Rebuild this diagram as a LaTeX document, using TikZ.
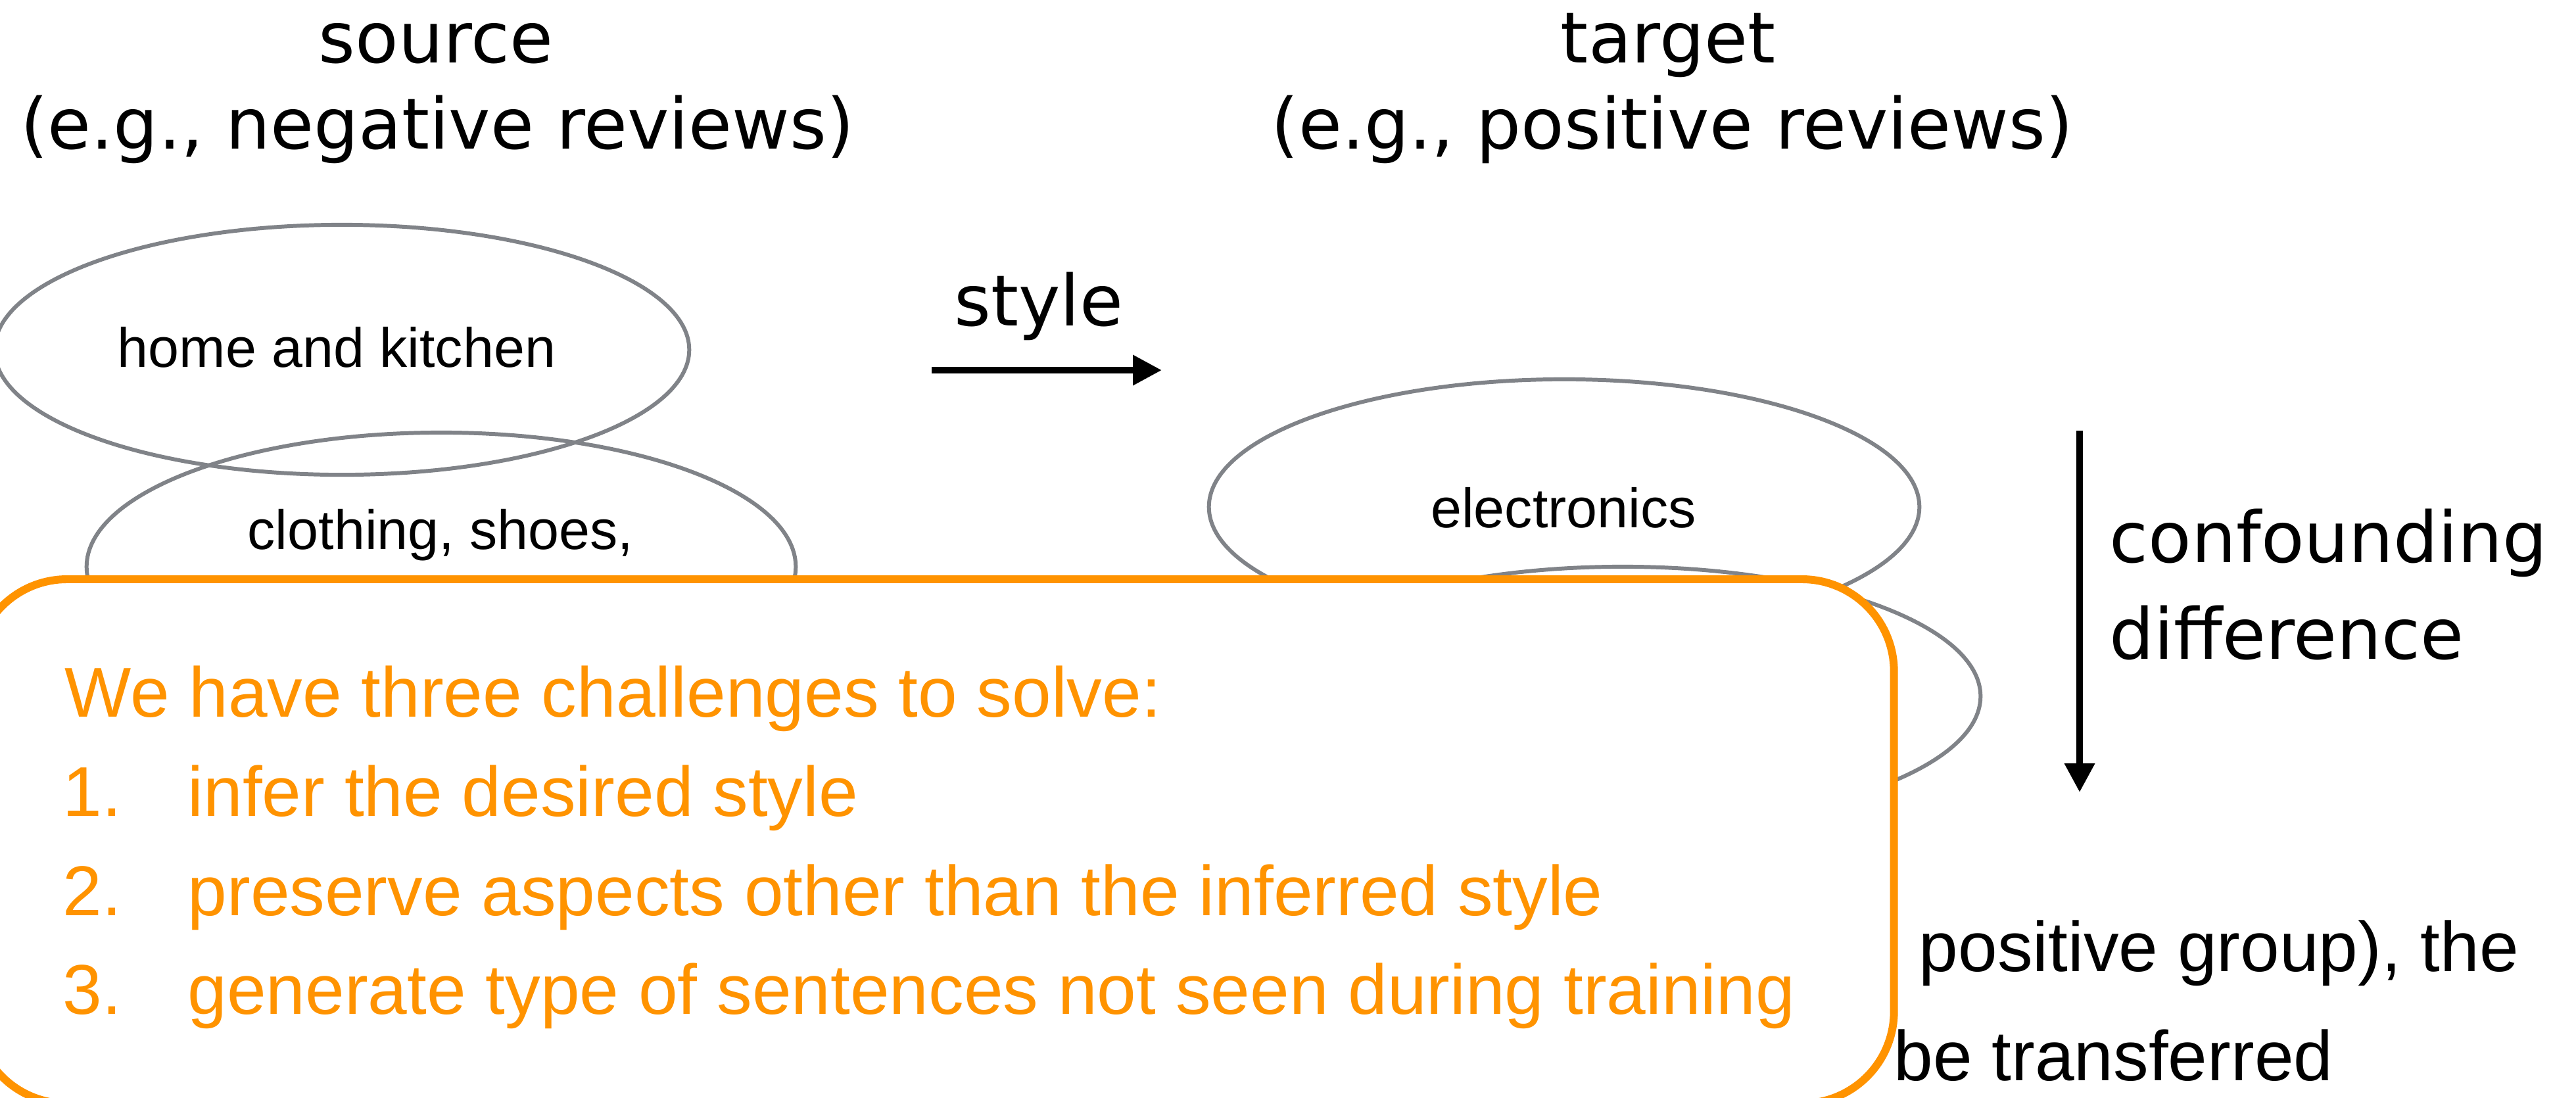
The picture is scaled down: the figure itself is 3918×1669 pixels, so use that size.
\documentclass[tikz,border=0pt]{standalone}
\usepackage{fontspec}
\setmainfont{Liberation Sans}
\newfontfamily\dejavu{DejaVu Sans}
\usetikzlibrary{shapes.geometric,arrows.meta}

\begin{document}
\begin{tikzpicture}[x=0.01cm, y=-0.01cm,
  titre/.style={font=\dejavu\fontsize{30.5}{36}\selectfont, inner sep=0pt, anchor=base},
  domaine/.style={ellipse, draw=grisellipse, line width=1.7pt, inner sep=0pt},
  etiquette/.style={font=\fontsize{24}{29}\selectfont, inner sep=0pt, anchor=base},
  defi/.style={font=\fontsize{30.5}{36}\selectfont, color=orangefonce, inner sep=0pt, anchor=base west},
  texte/.style={font=\fontsize{30.5}{36}\selectfont, inner sep=0pt, anchor=base west},
  fleche/.style={-{Triangle[length=12.5pt, width=12.5pt]}, line width=2.85pt}]
  % Définition des couleurs
  \definecolor{orangefonce}{RGB}{255,147,0}
  \definecolor{grisellipse}{RGB}{128,131,136}

  \useasboundingbox (0,0) rectangle (3918,1669);

  % --- Titres source / cible ---
  \node[titre] (source) at (663,95) {source};
  \node[titre] (sourceex) at (665,226) {(e.g., negative reviews)};
  \node[titre] (cible) at (2537,95) {target};
  \node[titre] (cibleex) at (2543,226) {(e.g., positive reviews)};

  % --- Domaines (ellipses) ---
  \node[domaine, minimum width=10.56cm, minimum height=3.80cm] (maison) at (520,532) {};
  \node[etiquette] (maisontxt) at (512,558) {home and kitchen};
  \node[domaine, minimum width=10.78cm, minimum height=4.08cm] (vetements) at (671,862) {};
  \node[etiquette] (vetementstxt) at (670,835) {clothing, shoes,};
  \node[domaine, minimum width=10.80cm, minimum height=3.88cm] (electro) at (2379,771) {};
  \node[etiquette] (electrotxt) at (2378,802) {electronics};
  \node[domaine, minimum width=10.88cm, minimum height=3.94cm] (autre) at (2468,1059) {};

  % Flèche horizontale → style
  \node[titre] (style) at (1580,495) {style};
  \coordinate (styledep) at (1417,563);
  \coordinate (stylearr) at (1767,563);
  \draw[fleche] (styledep) -- (stylearr);

  % Flèche verticale → confounding difference
  \coordinate (confdep) at (3163,655);
  \coordinate (confarr) at (3163,1205);
  \draw[fleche] (confdep) -- (confarr);
  \node[titre, anchor=base west] (conf) at (3208,855) {confounding};
  \node[titre, anchor=base west] (diff) at (3208,1002) {difference};

  % --- Texte noir à droite ---
  \node[texte] (groupe) at (2918,1477) {positive group), the};
  \node[texte] (transfert) at (2880,1643) {be transferred};

  % --- Cadre orange des trois défis ---
  \node[draw=orangefonce, line width=3.4pt, fill=white, rounded corners=1.4cm,
        minimum width=29.17cm, minimum height=7.97cm, inner sep=0pt,
        anchor=north west] (defis) at (-44,875) {};
  \node[defi] (intro) at (98,1090) {We have three challenges to solve:};
  \node[defi] (num1) at (95,1241) {1.};
  \node[defi] (defi1) at (285,1241) {infer the desired style};
  \node[defi] (num2) at (95,1392) {2.};
  \node[defi] (defi2) at (285,1392) {preserve aspects other than the inferred style};
  \node[defi] (num3) at (95,1542) {3.};
  \node[defi] (defi3) at (285,1542) {generate type of sentences not seen during training};

\end{tikzpicture}
\end{document}
